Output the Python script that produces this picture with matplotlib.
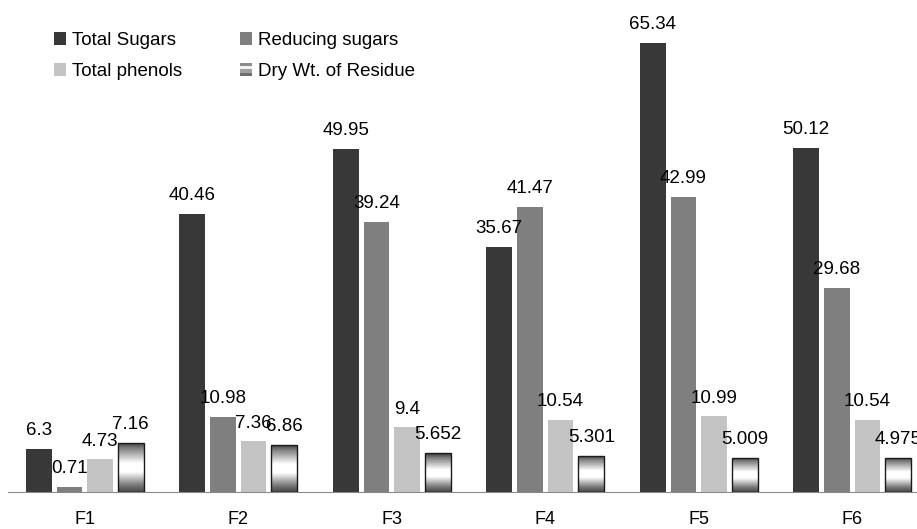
import numpy as np
import matplotlib.pyplot as plt
from matplotlib.patches import Rectangle
from matplotlib.legend_handler import HandlerBase

plt.rcParams['font.family'] = ['Liberation Sans', 'DejaVu Sans']

groups = ['F1', 'F2', 'F3', 'F4', 'F5', 'F6']
total_sugars = [6.3, 40.46, 49.95, 35.67, 65.34, 50.12]
reducing_sugars = [0.71, 10.98, 39.24, 41.47, 42.99, 29.68]
total_phenols = [4.73, 7.36, 9.4, 10.54, 10.99, 10.54]
dry_wt = [7.16, 6.86, 5.652, 5.301, 5.009, 4.975]

# shading of the residue bars, top to bottom
grad_pos = [0.0, 0.12, 0.42, 0.6, 0.85, 1.0]
grad_val = [0.22, 0.5, 1.0, 1.0, 0.5, 0.28]
shade = np.interp(np.linspace(0, 1, 100), grad_pos, grad_val)[:, None]


class GradientHandler(HandlerBase):
    def create_artists(self, legend, orig_handle, xdescent, ydescent,
                       width, height, fontsize, trans):
        tones = ['#8c8c8c', '#f2f2f2', '#a0a0a0', '#6e6e6e']
        n = len(tones)
        out = []
        for i, c in enumerate(tones):
            out.append(Rectangle((-xdescent, -ydescent + height * (n - 1 - i) / n),
                                 width, height / n, facecolor=c,
                                 edgecolor='none', transform=trans))
        return out


fig = plt.figure(figsize=(9.17, 5.29), dpi=100)
ax = fig.add_axes([8 / 917, 37 / 529, 921 / 917, 492 / 529])

x = np.arange(len(groups))
pitch = 0.2
width = 0.167

b1 = ax.bar(x - 1.5 * pitch, total_sugars, width, color='#383838')
b2 = ax.bar(x - 0.5 * pitch, reducing_sugars, width, color='#7f7f7f')
b3 = ax.bar(x + 0.5 * pitch, total_phenols, width, color='#c3c3c3')
b4 = ax.bar(x + 1.5 * pitch, dry_wt, width, facecolor='none',
            edgecolor='#1a1a1a', linewidth=1.0, zorder=3)

for rect in b4:
    x0, y0 = rect.get_x(), rect.get_y()
    im = ax.imshow(shade, cmap='gray', vmin=0, vmax=1, aspect='auto',
                   extent=(x0, x0 + rect.get_width(), y0, y0 + rect.get_height()),
                   zorder=2)
    im.set_clip_path(rect)

for bars, vals in [(b1, total_sugars), (b2, reducing_sugars),
                   (b3, total_phenols), (b4, dry_wt)]:
    for rect, v in zip(bars, vals):
        ax.annotate(f'{v:g}', (rect.get_x() + rect.get_width() / 2, v),
                    xytext=(0, 10), textcoords='offset points',
                    ha='center', va='baseline', fontsize=13.5, zorder=5)

ax.set_xlim(-0.5, 5.5)
ax.set_ylim(0, 71.6)
ax.set_xticks(x)
ax.set_xticklabels(groups, fontsize=13)
ax.tick_params(axis='x', length=0, pad=14)
ax.set_yticks([])
for side in ['top', 'left', 'right']:
    ax.spines[side].set_visible(False)
ax.spines['bottom'].set_color('#8a8a8a')

dry_handle = Rectangle((0, 0), 1, 1)
ax.legend([b1, b3, b2, dry_handle],
          ['Total Sugars', 'Total phenols', 'Reducing sugars', 'Dry Wt. of Residue'],
          handler_map={dry_handle: GradientHandler()},
          ncol=2, frameon=False, fontsize=13.5, loc='upper left',
          bbox_to_anchor=(54 / 917, 1 - 32 / 529), bbox_transform=fig.transFigure,
          borderpad=0, borderaxespad=0, handlelength=0.65, handleheight=0.65,
          handletextpad=0.3, columnspacing=3.1, labelspacing=0.75)

fig.savefig('out.png', dpi=100)
